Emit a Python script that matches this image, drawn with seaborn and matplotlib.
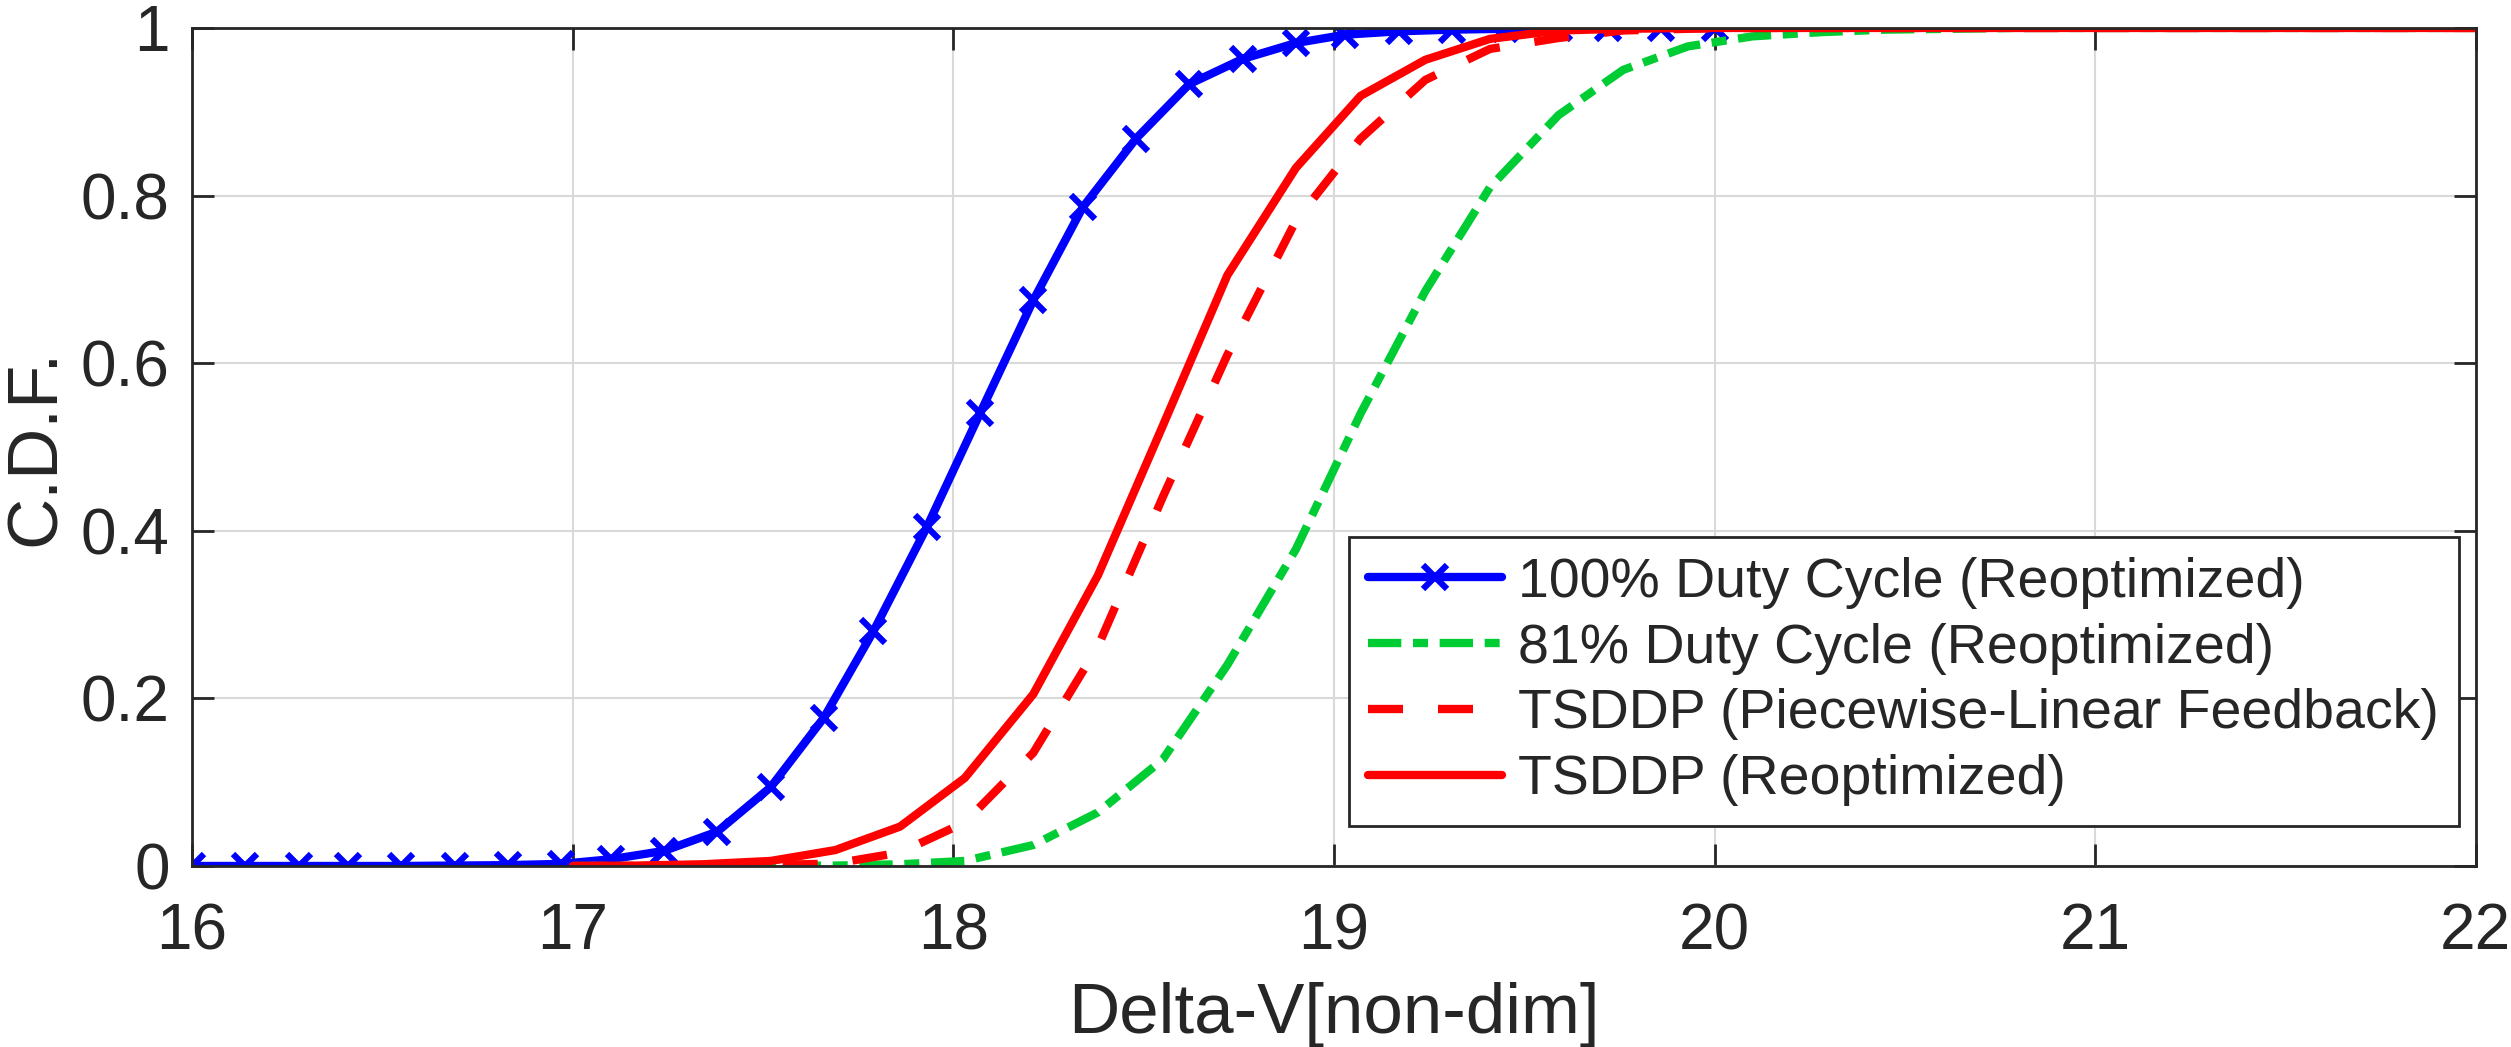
import matplotlib
matplotlib.use("Agg")
import matplotlib.pyplot as plt
import pandas as pd
import seaborn as sns

# 100% duty cycle, 30 samples between 16 and 20
x_full = [16.00, 16.14, 16.28, 16.41, 16.55, 16.69, 16.83, 16.97, 17.10, 17.24,
          17.38, 17.52, 17.66, 17.79, 17.93, 18.07, 18.21, 18.34, 18.48, 18.62,
          18.76, 18.90, 19.03, 19.17, 19.31, 19.45, 19.59, 19.72, 19.86, 20.00]
cdf_full = [0.0, 0.0, 0.0, 0.0, 0.0, 0.0005, 0.001, 0.0025, 0.008, 0.018,
            0.041, 0.094, 0.177, 0.28, 0.404, 0.54, 0.675, 0.786, 0.868, 0.933,
            0.963, 0.982, 0.992, 0.996, 0.998, 0.999, 1.0, 1.0, 1.0, 1.0]

# the other three share a grid of 30 samples between 17 and 22
x_grid = [17.00, 17.17, 17.34, 17.52, 17.69, 17.86, 18.03, 18.21, 18.38, 18.55,
          18.72, 18.90, 19.07, 19.24, 19.41, 19.59, 19.76, 19.93, 20.10, 20.28,
          20.45, 20.62, 20.79, 20.97, 21.14, 21.31, 21.48, 21.66, 21.83, 22.00]
cdf_81 = [0.0, 0.0, 0.0, 0.0, 0.0005, 0.002, 0.006, 0.025, 0.064, 0.127,
          0.24, 0.378, 0.54, 0.686, 0.81, 0.896, 0.95, 0.978, 0.99, 0.995,
          0.998, 0.999, 1.0, 1.0, 1.0, 1.0, 1.0, 1.0, 1.0, 1.0]
cdf_pwl = [0.0, 0.0, 0.0, 0.001, 0.003, 0.016, 0.052, 0.135, 0.262, 0.44,
           0.61, 0.77, 0.868, 0.938, 0.975, 0.988, 0.997, 0.999, 1.0, 1.0,
           1.0, 1.0, 1.0, 1.0, 1.0, 1.0, 1.0, 1.0, 1.0, 1.0]
cdf_tsddp = [0.0, 0.0005, 0.002, 0.006, 0.019, 0.047, 0.105, 0.205, 0.347, 0.525,
             0.705, 0.833, 0.919, 0.962, 0.987, 0.997, 0.999, 1.0, 1.0, 1.0,
             1.0, 1.0, 1.0, 1.0, 1.0, 1.0, 1.0, 1.0, 1.0, 1.0]

labels = ["100% Duty Cycle (Reoptimized)", "81% Duty Cycle (Reoptimized)",
          "TSDDP (Piecewise-Linear Feedback)", "TSDDP (Reoptimized)"]
x_ticks = [16, 17, 18, 19, 20, 21, 22]
y_ticks = [0, 0.2, 0.4, 0.6, 0.8, 1]
y_tick_labels = ["0", "0.2", "0.4", "0.6", "0.8", "1"]

sns.set_theme(style="ticks")
plt.rcParams["font.family"] = ["Liberation Sans", "DejaVu Sans"]

fig = plt.figure(figsize=(25.11, 10.47), dpi=100)
ax = fig.add_axes([0.0765, 0.1729, 0.9095, 0.8004])

lw = 6
df_full = pd.DataFrame({"x": x_full, "y": cdf_full})
sns.lineplot(data=df_full, x="x", y="y", ax=ax, color="#0000FF", lw=lw,
             marker="x", markersize=17, markeredgewidth=4.5,
             markeredgecolor="#0000FF", label=labels[0])
ax.lines[-1].set_linestyle("-")

df_81 = pd.DataFrame({"x": x_grid, "y": cdf_81})
sns.lineplot(data=df_81, x="x", y="y", ax=ax, color="#00CC33", lw=lw,
             label=labels[1])
ax.lines[-1].set_dashes([4.0, 1.4, 1.8, 1.4])

df_pwl = pd.DataFrame({"x": x_grid, "y": cdf_pwl})
sns.lineplot(data=df_pwl, x="x", y="y", ax=ax, color="#FF0000", lw=lw,
             label=labels[2])
ax.lines[-1].set_dashes([4.2, 4.2])

df_tsddp = pd.DataFrame({"x": x_grid, "y": cdf_tsddp})
sns.lineplot(data=df_tsddp, x="x", y="y", ax=ax, color="#FF0000", lw=lw,
             label=labels[3])

ax.set_xlim(16, 22)
ax.set_ylim(0, 1)
ax.set_xticks(x_ticks)
ax.set_yticks(y_ticks)
ax.set_yticklabels(y_tick_labels)
ax.grid(True, color="#d9d9d9", lw=1.5)
ax.set_axisbelow(True)
for s in ax.spines.values():
    s.set_visible(True)
    s.set_color("#262626")
    s.set_linewidth(2)
ax.tick_params(direction="in", length=16, width=2, colors="#262626",
               labelsize=46, top=True, right=True, pad=16)
ax.tick_params(axis="x", pad=26)

ax.set_xlabel("Delta-V[non-dim]", fontsize=51, color="#262626", labelpad=14)
ax.set_ylabel("C.D.F.", fontsize=51, color="#262626", labelpad=8)

leg = ax.legend(loc="lower right", bbox_to_anchor=(0.9925, 0.048),
                fontsize=40, frameon=True, fancybox=False, handlelength=2.4,
                handletextpad=0.3, labelspacing=0.25, borderpad=0.35,
                borderaxespad=0)
leg.get_frame().set_edgecolor("#262626")
leg.get_frame().set_linewidth(2)
leg.get_frame().set_alpha(1)
for h in leg.get_lines():
    h.set_linewidth(lw)

fig.savefig("out.png", dpi=100, facecolor="white")
